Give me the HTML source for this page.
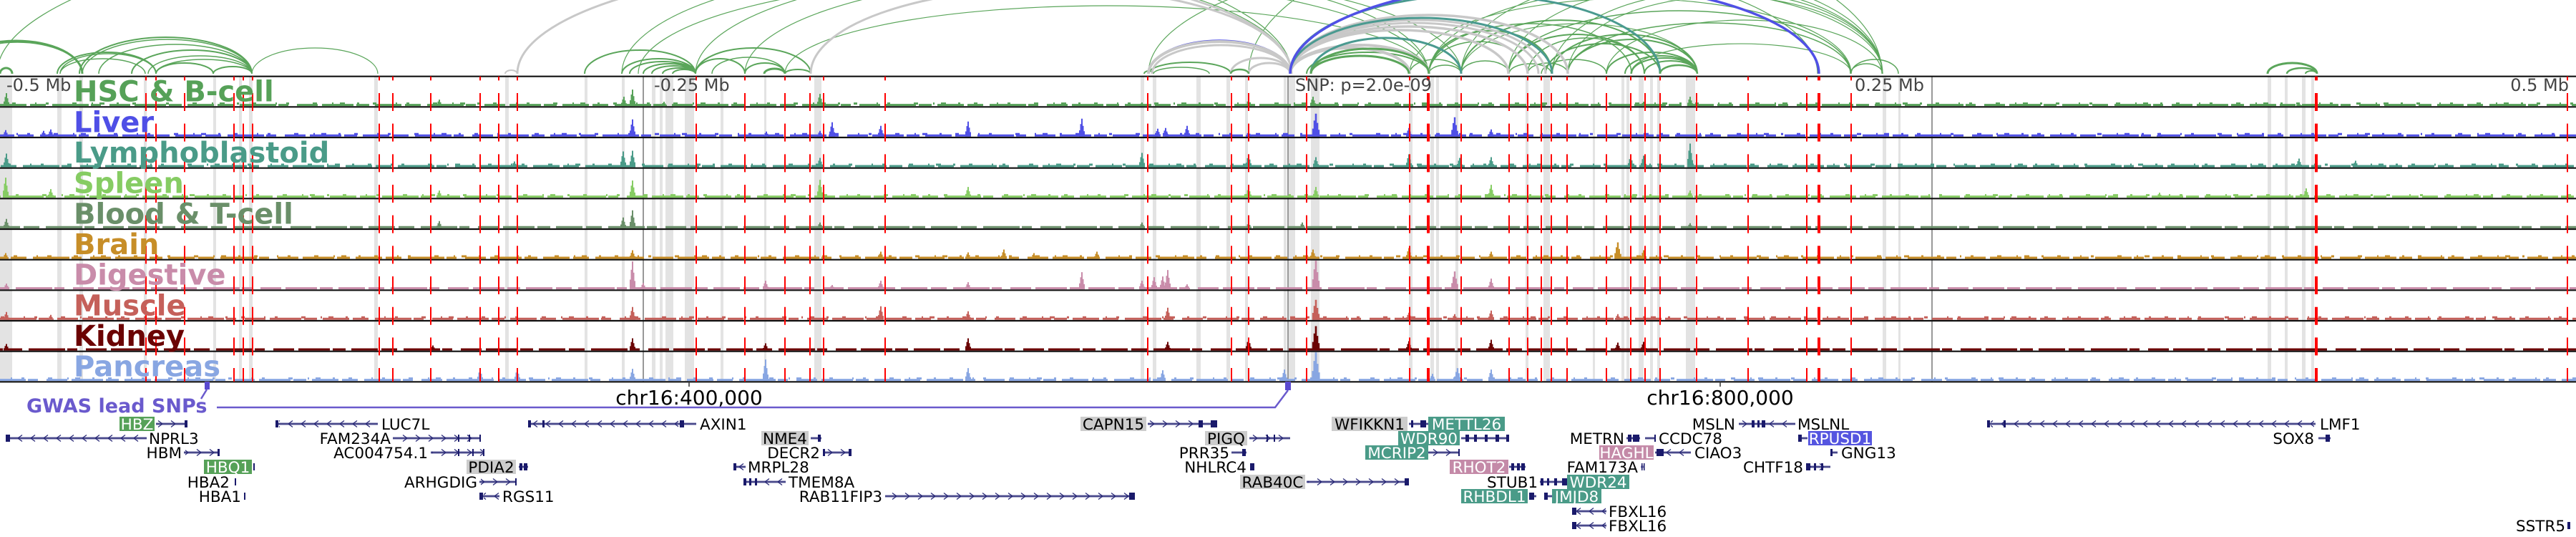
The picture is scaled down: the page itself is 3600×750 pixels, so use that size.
<!DOCTYPE html>
<html>
<head>
<meta charset="utf-8">
<style>
html,body{margin:0;padding:0;background:#fff;}
body{width:3600px;height:750px;overflow:hidden;}
svg{display:block;}
.n1{stroke-width:3;stroke-dasharray:37 5 22 9 51 3 14 12 29 6 44 4 18 8;}
.n2{stroke-width:3;stroke-dasharray:3 19 5 27 2 13 4 33 6 21 2 9 7 17;}
.tl{font-family:"DejaVu Sans","Liberation Sans",sans-serif;font-weight:bold;font-size:40px;}
.ax{font-family:"DejaVu Sans","Liberation Sans",sans-serif;font-size:24px;fill:#444;}
.g{font-family:"DejaVu Sans","Liberation Sans",sans-serif;font-size:21.5px;fill:#000;}
.gw{font-family:"DejaVu Sans","Liberation Sans",sans-serif;font-size:21.5px;fill:#fff;text-anchor:middle;}
.gb{font-family:"DejaVu Sans","Liberation Sans",sans-serif;font-size:21.5px;fill:#000;text-anchor:middle;}
.e{text-anchor:end;}
.ex{fill:#1a1a6b;}
</style>
</head>
<body>
<svg xmlns="http://www.w3.org/2000/svg" width="3600" height="750" viewBox="0 0 3600 750">
<defs>
<path id="pk" d="M-4 0V-.35H-2.5V-.7H-1V-1H1V-.6H2.5V-.3H4V0Z" stroke="none"/>
<pattern id="cr" patternUnits="userSpaceOnUse" x="0" y="-6" width="18" height="12"><path d="M5 1.5L11 6L5 10.5" fill="none" stroke="#2a2a78" stroke-width="1.3"/></pattern>
<pattern id="cl" patternUnits="userSpaceOnUse" x="0" y="-6" width="18" height="12"><path d="M13 1.5L7 6L13 10.5" fill="none" stroke="#2a2a78" stroke-width="1.3"/></pattern>
</defs>

<!-- gray bands -->
<g fill="#e3e3e3">
<rect x="0" y="106.7" width="17" height="426.6"/>
<rect x="80" y="106.7" width="6" height="426.6"/>
<rect x="111" y="106.7" width="5" height="426.6"/>
<rect x="201" y="106.7" width="4" height="426.6"/>
<rect x="298" y="106.7" width="4" height="426.6"/>
<rect x="334" y="106.7" width="4" height="426.6"/>
<rect x="348" y="106.7" width="5" height="426.6"/>
<rect x="523" y="106.7" width="5" height="426.6"/>
<rect x="706" y="106.7" width="5" height="426.6"/>
<rect x="817" y="106.7" width="4" height="426.6"/>
<rect x="869" y="106.7" width="4" height="426.6"/>
<rect x="911" y="106.7" width="5" height="426.6"/>
<rect x="922" y="106.7" width="4" height="426.6"/>
<rect x="930" y="106.7" width="11" height="426.6"/>
<rect x="957" y="106.7" width="13" height="426.6"/>
<rect x="1007" y="106.7" width="4" height="426.6"/>
<rect x="1068" y="106.7" width="3" height="426.6"/>
<rect x="1138" y="106.7" width="10" height="426.6"/>
<rect x="1594" y="106.7" width="5" height="426.6"/>
<rect x="1611" y="106.7" width="5" height="426.6"/>
<rect x="1672" y="106.7" width="6" height="426.6"/>
<rect x="1714" y="106.7" width="5" height="426.6"/>
<rect x="1740" y="106.7" width="4" height="426.6"/>
<rect x="1794" y="106.7" width="4" height="426.6"/>
<rect x="1801" y="106.7" width="9" height="426.6"/>
<rect x="1832" y="106.7" width="12" height="426.6"/>
<rect x="1969" y="106.7" width="5" height="426.6"/>
<rect x="1999" y="106.7" width="5" height="426.6"/>
<rect x="2007" y="106.7" width="4" height="426.6"/>
<rect x="2034" y="106.7" width="4" height="426.6"/>
<rect x="2132" y="106.7" width="4" height="426.6"/>
<rect x="2157" y="106.7" width="9" height="426.6"/>
<rect x="2226" y="106.7" width="3" height="426.6"/>
<rect x="2266" y="106.7" width="4" height="426.6"/>
<rect x="2273" y="106.7" width="4" height="426.6"/>
<rect x="2290" y="106.7" width="7" height="426.6"/>
<rect x="2306" y="106.7" width="4" height="426.6"/>
<rect x="2316" y="106.7" width="4" height="426.6"/>
<rect x="2356" y="106.7" width="13" height="426.6"/>
<rect x="2631" y="106.7" width="5" height="426.6"/>
<rect x="2653" y="106.7" width="3" height="426.6"/>
<rect x="3169" y="106.7" width="5" height="426.6"/>
<rect x="3193" y="106.7" width="4" height="426.6"/>
<rect x="3217" y="106.7" width="5" height="426.6"/>
<rect x="3230" y="106.7" width="4" height="426.6"/>
</g>

<!-- axis lines -->
<path d="M899 106.7V533.3M1800 106.7V533.3M2700 106.7V533.3" stroke="#777" stroke-width="1.5"/>

<!-- signal tracks -->
<g fill="#56a158" stroke="#56a158" transform="translate(0,148.1)">
<line class="n1" x1="0" x2="3600" y1="-1.5" y2="-1.5"/>
<line class="n2" x1="0" x2="3600" y1="-3.5" y2="-3.5" style="stroke-dashoffset:5"/>
<use href="#pk" transform="translate(9,0) scale(1,18)"/><use href="#pk" transform="translate(614,0) scale(1,9)"/><use href="#pk" transform="translate(872,0) scale(1,13)"/><use href="#pk" transform="translate(884,0) scale(1,23)"/><use href="#pk" transform="translate(928,0) scale(1,6)"/><use href="#pk" transform="translate(1146,0) scale(1,17)"/><use href="#pk" transform="translate(1745,0) scale(1,9)"/><use href="#pk" transform="translate(1835,0) scale(1,13)"/><use href="#pk" transform="translate(2362,0) scale(1,13)"/><use href="#pk" transform="translate(1596,0) scale(1,5)"/><use href="#pk" transform="translate(2297,0) scale(1,6)"/><use href="#pk" transform="translate(2084,0) scale(1,5)"/><use href="#pk" transform="translate(3213,0) scale(1,4)"/>
</g>
<g fill="#4f4fe6" stroke="#4f4fe6" transform="translate(0,190.8)">
<line class="n1" x1="0" x2="3600" y1="-1.5" y2="-1.5" style="stroke-dashoffset:17"/>
<line class="n2" x1="0" x2="3600" y1="-3.5" y2="-3.5" style="stroke-dashoffset:31"/>
<use href="#pk" transform="translate(8,0) scale(1,9)"/><use href="#pk" transform="translate(61,0) scale(1,8)"/><use href="#pk" transform="translate(71,0) scale(1,10)"/><use href="#pk" transform="translate(884,0) scale(1,24)"/><use href="#pk" transform="translate(1071,0) scale(1,7)"/><use href="#pk" transform="translate(1146,0) scale(1,8)"/><use href="#pk" transform="translate(1163,0) scale(1,20)"/><use href="#pk" transform="translate(1231,0) scale(1,15)"/><use href="#pk" transform="translate(1353,0) scale(1,21)"/><use href="#pk" transform="translate(1512,0) scale(1,25)"/><use href="#pk" transform="translate(1618,0) scale(1,11)"/><use href="#pk" transform="translate(1629,0) scale(1,12)"/><use href="#pk" transform="translate(1659,0) scale(1,15)"/><use href="#pk" transform="translate(1745,0) scale(1,7)"/><use href="#pk" transform="translate(1839,0) scale(1.3,32)"/><use href="#pk" transform="translate(1969,0) scale(1,12)"/><use href="#pk" transform="translate(2033,0) scale(1.2,27)"/><use href="#pk" transform="translate(2084,0) scale(1,10)"/><use href="#pk" transform="translate(3018,0) scale(1,5)"/>
</g>
<g fill="#4a9b88" stroke="#4a9b88" transform="translate(0,233.5)">
<line class="n1" x1="0" x2="3600" y1="-1.5" y2="-1.5" style="stroke-dashoffset:41"/>
<line class="n2" x1="0" x2="3600" y1="-3.5" y2="-3.5" style="stroke-dashoffset:12"/>
<use href="#pk" transform="translate(9,0) scale(1,19)"/><use href="#pk" transform="translate(719,0) scale(1,8)"/><use href="#pk" transform="translate(871,0) scale(1,22)"/><use href="#pk" transform="translate(884,0) scale(1,23)"/><use href="#pk" transform="translate(1146,0) scale(1,13)"/><use href="#pk" transform="translate(1596,0) scale(1,20)"/><use href="#pk" transform="translate(1745,0) scale(1,18)"/><use href="#pk" transform="translate(1839,0) scale(1,14)"/><use href="#pk" transform="translate(1969,0) scale(1,18)"/><use href="#pk" transform="translate(2040,0) scale(1,13)"/><use href="#pk" transform="translate(2084,0) scale(1,14)"/><use href="#pk" transform="translate(2279,0) scale(1,16)"/><use href="#pk" transform="translate(2297,0) scale(1,16)"/><use href="#pk" transform="translate(2362,0) scale(1,33)"/><use href="#pk" transform="translate(3213,0) scale(1,12)"/><use href="#pk" transform="translate(3292,0) scale(1,9)"/>
</g>
<g fill="#86cc63" stroke="#86cc63" transform="translate(0,276.1)">
<line class="n1" x1="0" x2="3600" y1="-1.5" y2="-1.5" style="stroke-dashoffset:63"/>
<line class="n2" x1="0" x2="3600" y1="-3.5" y2="-3.5" style="stroke-dashoffset:47"/>
<use href="#pk" transform="translate(8,0) scale(1,28)"/><use href="#pk" transform="translate(71,0) scale(1,12)"/><use href="#pk" transform="translate(614,0) scale(1,10)"/><use href="#pk" transform="translate(884,0) scale(1,24)"/><use href="#pk" transform="translate(1146,0) scale(1,25)"/><use href="#pk" transform="translate(1353,0) scale(1,15)"/><use href="#pk" transform="translate(1745,0) scale(1,15)"/><use href="#pk" transform="translate(1839,0) scale(1,15)"/><use href="#pk" transform="translate(2084,0) scale(1,18)"/><use href="#pk" transform="translate(2362,0) scale(1,10)"/><use href="#pk" transform="translate(3018,0) scale(1,7)"/><use href="#pk" transform="translate(3223,0) scale(1,13)"/>
</g>
<g fill="#6a8f69" stroke="#6a8f69" transform="translate(0,318.8)">
<line class="n1" x1="0" x2="3600" y1="-1.5" y2="-1.5" style="stroke-dashoffset:9"/>
<use href="#pk" transform="translate(9,0) scale(1,13)"/><use href="#pk" transform="translate(614,0) scale(1,10)"/><use href="#pk" transform="translate(871,0) scale(1,15)"/><use href="#pk" transform="translate(884,0) scale(1,25)"/><use href="#pk" transform="translate(1146,0) scale(1,8)"/><use href="#pk" transform="translate(1596,0) scale(1,8)"/><use href="#pk" transform="translate(1745,0) scale(1,8)"/><use href="#pk" transform="translate(1820,0) scale(1,8)"/><use href="#pk" transform="translate(2362,0) scale(1,7)"/>
</g>
<g fill="#c78e28" stroke="#c78e28" transform="translate(0,361.5)">
<line class="n1" x1="0" x2="3600" y1="-1.5" y2="-1.5" style="stroke-dashoffset:27"/>
<line class="n2" x1="0" x2="3600" y1="-3.5" y2="-3.5" style="stroke-dashoffset:3"/>
<use href="#pk" transform="translate(8,0) scale(1,8)"/><use href="#pk" transform="translate(71,0) scale(1,5)"/><use href="#pk" transform="translate(884,0) scale(1,12)"/><use href="#pk" transform="translate(1231,0) scale(1,10)"/><use href="#pk" transform="translate(1353,0) scale(1,9)"/><use href="#pk" transform="translate(1403,0) scale(1,13)"/><use href="#pk" transform="translate(1445,0) scale(1,8)"/><use href="#pk" transform="translate(1533,0) scale(1,10)"/><use href="#pk" transform="translate(1835,0) scale(1,13)"/><use href="#pk" transform="translate(1969,0) scale(1,15)"/><use href="#pk" transform="translate(2084,0) scale(1,10)"/><use href="#pk" transform="translate(2261,0) scale(1.2,23)"/><use href="#pk" transform="translate(2297,0) scale(1,12)"/>
</g>
<g fill="#c98caa" stroke="#c98caa" transform="translate(0,404.1)">
<line class="n1" x1="0" x2="3600" y1="-1.5" y2="-1.5" style="stroke-dashoffset:51"/>
<use href="#pk" transform="translate(9,0) scale(1,8)"/><use href="#pk" transform="translate(884,0) scale(1,39)"/><use href="#pk" transform="translate(899,0) scale(1,9)"/><use href="#pk" transform="translate(1070,0) scale(1,12)"/><use href="#pk" transform="translate(1163,0) scale(1,6)"/><use href="#pk" transform="translate(1231,0) scale(1,12)"/><use href="#pk" transform="translate(1353,0) scale(1,10)"/><use href="#pk" transform="translate(1512,0) scale(1,24)"/><use href="#pk" transform="translate(1596,0) scale(1,12)"/><use href="#pk" transform="translate(1613,0) scale(1,17)"/><use href="#pk" transform="translate(1625,0) scale(1,18)"/><use href="#pk" transform="translate(1632,0) scale(1,27)"/><use href="#pk" transform="translate(1659,0) scale(1,7)"/><use href="#pk" transform="translate(1839,0) scale(1.3,40)"/><use href="#pk" transform="translate(2033,0) scale(1.2,25)"/><use href="#pk" transform="translate(2084,0) scale(1,15)"/>
</g>
<g fill="#c5605a" stroke="#c5605a" transform="translate(0,446.8)">
<line class="n1" x1="0" x2="3600" y1="-1.5" y2="-1.5" style="stroke-dashoffset:73"/>
<line class="n2" x1="0" x2="3600" y1="-3.5" y2="-3.5" style="stroke-dashoffset:21"/>
<use href="#pk" transform="translate(9,0) scale(1,11)"/><use href="#pk" transform="translate(71,0) scale(1,7)"/><use href="#pk" transform="translate(884,0) scale(1,18)"/><use href="#pk" transform="translate(1231,0) scale(1,19)"/><use href="#pk" transform="translate(1353,0) scale(1,12)"/><use href="#pk" transform="translate(1632,0) scale(1,17)"/><use href="#pk" transform="translate(1839,0) scale(1.3,28)"/><use href="#pk" transform="translate(1969,0) scale(1,10)"/><use href="#pk" transform="translate(2033,0) scale(1,8)"/><use href="#pk" transform="translate(2084,0) scale(1,13)"/><use href="#pk" transform="translate(2261,0) scale(1,8)"/>
</g>
<g fill="#6b0303" stroke="#6b0303" transform="translate(0,489.5)">
<line class="n1" x1="0" x2="3600" y1="-1.5" y2="-1.5" style="stroke-dashoffset:33"/>
<use href="#pk" transform="translate(9,0) scale(1,9)"/><use href="#pk" transform="translate(605,0) scale(1,7)"/><use href="#pk" transform="translate(884,0) scale(1,17)"/><use href="#pk" transform="translate(1070,0) scale(1,10)"/><use href="#pk" transform="translate(1353,0) scale(1,17)"/><use href="#pk" transform="translate(1632,0) scale(1,12)"/><use href="#pk" transform="translate(1745,0) scale(1,17)"/><use href="#pk" transform="translate(1839,0) scale(1.3,34)"/><use href="#pk" transform="translate(1969,0) scale(1,13)"/><use href="#pk" transform="translate(2084,0) scale(1,15)"/><use href="#pk" transform="translate(2261,0) scale(1,11)"/><use href="#pk" transform="translate(2297,0) scale(1,12)"/>
</g>
<g fill="#88a6e2" stroke="#88a6e2" transform="translate(0,532.1)">
<line class="n1" x1="0" x2="3600" y1="-1.5" y2="-1.5" style="stroke-dashoffset:88"/>
<line class="n2" x1="0" x2="3600" y1="-3.5" y2="-3.5" style="stroke-dashoffset:39"/>
<use href="#pk" transform="translate(671,0) scale(1,17)"/><use href="#pk" transform="translate(723,0) scale(1,17)"/><use href="#pk" transform="translate(884,0) scale(1,17)"/><use href="#pk" transform="translate(1070,0) scale(1,30)"/><use href="#pk" transform="translate(1353,0) scale(1,18)"/><use href="#pk" transform="translate(1625,0) scale(1,15)"/><use href="#pk" transform="translate(1795,0) scale(1,16)"/><use href="#pk" transform="translate(1839,0) scale(1.4,40)"/><use href="#pk" transform="translate(2002,0) scale(1,10)"/><use href="#pk" transform="translate(2037,0) scale(1.2,18)"/><use href="#pk" transform="translate(2084,0) scale(1,16)"/>
</g>

<!-- track borders -->
<path d="M0 106.7H3600M0 149.3H3600M0 192H3600M0 234.7H3600M0 277.3H3600M0 320H3600M0 362.7H3600M0 405.3H3600M0 448H3600M0 490.7H3600M0 533.3H3600" stroke="#111" stroke-width="2.2"/>

<!-- red lines -->
<path d="M204 106.7V533M218 106.7V533M258 106.7V533M327 106.7V533M340 106.7V533M353 106.7V533M530 106.7V533M549 106.7V533M602 106.7V533M671 106.7V533M697 106.7V533M723 106.7V533M973 106.7V533M1041 106.7V533M1097 106.7V533M1132 106.7V533M1151 106.7V533M1237 106.7V533M1604 106.7V533M1721 106.7V533M1745 106.7V533M1826 106.7V533M1970 106.7V533M2042 106.7V533M2109 106.7V533M2135 106.7V533M2154 106.7V533M2168 106.7V533M2190 106.7V533M2245 106.7V533M2279 106.7V533M2299 106.7V533M2320 106.7V533M2371 106.7V533M2443 106.7V533M2525 106.7V533M2587 106.7V533M3588 106.7V533" stroke="#ff0000" stroke-width="2" stroke-dasharray="25 17.67" stroke-dashoffset="19.37"/>
<path d="M1996 106.7V533M2542 106.7V533M3237 106.7V533" stroke="#ff0000" stroke-width="4" stroke-dasharray="25 17.67" stroke-dashoffset="19.37"/>

<!-- arcs -->
<g fill="none">
<path stroke="#5aa55a" stroke-width="1.2" d="M-4 103A904.5 223 0 0 1 1805 103M352 103A88 36 0 0 1 528 103M869 103A468 150 0 0 1 1805 103M892 103A552 135 0 0 1 1996 103M972 103A512 150 0 0 1 1996 103M1041 103A500.5 140 0 0 1 2042 103M1097 103A449.5 95 0 0 1 1996 103M1605 103A467.5 160 0 0 1 2540 103M1745 103A442.5 200 0 0 1 2630 103M2042 103A165 70 0 0 1 2372 103M1997 103A317 120 0 0 1 2631 103M2042 103A294.5 140 0 0 1 2631 103M2108 103A261.5 125 0 0 1 2631 103M2169 103A231 115 0 0 1 2631 103M2191 103A220 108 0 0 1 2631 103M2245 103A192.5 75 0 0 1 2630 103M2279 103A154 42 0 0 1 2587 103M1970 103A308.5 105 0 0 1 2587 103"/>
<path stroke="#5aa55a" stroke-width="1.5" d="M-66 103A90.5 44 0 0 1 115 103M84 103A67 28 0 0 1 218 103M84 103A59.5 21 0 0 1 203 103M115 103A118.5 48 0 0 1 352 103M138 103A107 41 0 0 1 352 103M207 103A72.5 25 0 0 1 352 103M218 103A67 20 0 0 1 352 103M995 103A51 23 0 0 1 1097 103M1612 103A39 9 0 0 1 1690 103M1997 103A69 45 0 0 1 2135 103M1997 103A141.5 70 0 0 1 2280 103M2135 103A81.5 50 0 0 1 2298 103M2135 103A28 15 0 0 1 2191 103M2154 103A45.5 20 0 0 1 2245 103M2109 103A29.5 14 0 0 1 2168 103M2042 103A33.5 18 0 0 1 2109 103M1997 103A22.5 12 0 0 1 2042 103M1970 103A36 20 0 0 1 2042 103M2108 103A239 88 0 0 1 2586 103M2191 103A197.5 71 0 0 1 2586 103M2586 103A22.5 14 0 0 1 2631 103M2587 103A33 20 0 0 1 2653 103"/>
<path stroke="#5aa55a" stroke-width="2" d="M80 103A69 30 0 0 1 218 103M111 103A120.5 51 0 0 1 352 103M184 103A84 33 0 0 1 352 103M218 103A40 15 0 0 1 298 103M298 103A27 10 0 0 1 352 103M817 103A77.5 33 0 0 1 972 103M869 103A51.5 21 0 0 1 972 103M880 103A46 17 0 0 1 972 103M899 103A36.5 14 0 0 1 972 103M911 103A30.5 11 0 0 1 972 103M926 103A23 8 0 0 1 972 103M940 103A16 6 0 0 1 972 103M972 103A34.5 21 0 0 1 1041 103M972 103A80.5 36 0 0 1 1133 103M1041 103A28 15 0 0 1 1097 103M1097 103A18 6 0 0 1 1133 103M1599 103A6.5 4 0 0 1 1612 103M1605 103A57.5 16 0 0 1 1720 103M1826 103A85.5 30 0 0 1 1997 103M1997 103A86 60 0 0 1 2169 103M2042 103A139 75 0 0 1 2320 103M2108 103A95 55 0 0 1 2298 103M2160 103A80 42 0 0 1 2320 103M2169 103A101.5 55 0 0 1 2372 103M2191 103A90.5 48 0 0 1 2372 103M2245 103A63.5 30 0 0 1 2372 103M2271 103A50.5 25 0 0 1 2372 103M2280 103A46 22 0 0 1 2372 103M2298 103A37 18 0 0 1 2372 103M3222 103A8 4 0 0 1 3238 103"/>
<path stroke="#5050e6" stroke-width="1.5" d="M1605 103A99 47 0 0 1 1803 103"/>
<path stroke="#c8c8c8" stroke-width="2" d="M706 103A8.5 5 0 0 1 723 103"/>
<path stroke="#c8c8c8" stroke-width="3" d="M723 103A541 155 0 0 1 1805 103M1133 103A336 120 0 0 1 1805 103M1610 103A96.5 40 0 0 1 1803 103M1745 103A29 15 0 0 1 1803 103M1720 103A41.5 22 0 0 1 1803 103M1803 103A178.5 75 0 0 1 2160 103M1803 103A173.5 71 0 0 1 2150 103"/>
<path stroke="#c8c8c8" stroke-width="3.5" d="M1803 103A152.5 61 0 0 1 2108 103M1803 103A166 66 0 0 1 2135 103M1803 103A194 82 0 0 1 2191 103"/>
<path stroke="#c8c8c8" stroke-width="4" d="M1605 103A99 45 0 0 1 1803 103M1803 103A83.5 36 0 0 1 1970 103M1803 103A97 40 0 0 1 1997 103"/>
<path stroke="#4a9a90" stroke-width="3" d="M1803 103A258.5 110 0 0 1 2320 103M1803 103A183 78 0 0 1 2169 103M1832 103A105 50 0 0 1 2042 103"/>
<path stroke="#5050e6" stroke-width="3.5" d="M1803 103A369.5 128 0 0 1 2542 103"/>
<path stroke="#5aa55a" stroke-width="2.5" d="M1720 103A12.5 6 0 0 1 1745 103M2320 103A26 12 0 0 1 2372 103M3196 103A21 8 0 0 1 3238 103"/>
<path stroke="#5aa55a" stroke-width="3" d="M0 103A8.5 8 0 0 1 17 103M-70 103A92.5 46 0 0 1 115 103M1068 103A14.5 7 0 0 1 1097 103M1832 103A68.5 25 0 0 1 1969 103M1832 103A82.5 35 0 0 1 1997 103M3169 103A34.5 15 0 0 1 3238 103"/>
</g>

<!-- axis labels -->
<text class="ax" x="9" y="127">-0.5 Mb</text>
<text class="ax" x="914" y="127">-0.25 Mb</text>
<text class="ax" x="1810" y="127">SNP: p=2.0e-09</text>
<text class="ax" x="2689" y="127" text-anchor="end">0.25 Mb</text>
<text class="ax" x="3590" y="127" text-anchor="end">0.5 Mb</text>

<!-- track labels -->
<text class="tl" x="103" y="141.7" fill="#56a158">HSC &amp; B-cell</text>
<text class="tl" x="103" y="184.3" fill="#4f4fe6">Liver</text>
<text class="tl" x="103" y="227" fill="#4a9b88">Lymphoblastoid</text>
<text class="tl" x="103" y="269.7" fill="#86cc63">Spleen</text>
<text class="tl" x="103" y="312.3" fill="#6a8f69">Blood &amp; T-cell</text>
<text class="tl" x="103" y="355" fill="#c78e28">Brain</text>
<text class="tl" x="103" y="397.7" fill="#c98caa">Digestive</text>
<text class="tl" x="103" y="440.3" fill="#c5605a">Muscle</text>
<text class="tl" x="103" y="483" fill="#6b0303">Kidney</text>
<text class="tl" x="103" y="525.7" fill="#88a6e2">Pancreas</text>

<!-- coordinate ticks and labels -->
<path d="M963 533V540M2404 533V540" stroke="#333" stroke-width="1.5"/>
<text x="963" y="565" text-anchor="middle" font-family="DejaVu Sans, Liberation Sans, sans-serif" font-size="28" fill="#000">chr16:400,000</text>
<text x="2404" y="565" text-anchor="middle" font-family="DejaVu Sans, Liberation Sans, sans-serif" font-size="28" fill="#000">chr16:800,000</text>

<!-- GWAS track -->
<text x="37" y="576" font-family="DejaVu Sans, Liberation Sans, sans-serif" font-weight="bold" font-size="27" fill="#6a5acd">GWAS lead SNPs</text>
<path d="M303 569H1782L1800 545M289 544L281 557" fill="none" stroke="#6a5acd" stroke-width="2.5"/>
<rect x="286" y="533" width="7" height="11" fill="#5a4ad0"/>
<rect x="1796" y="533" width="8" height="12" fill="#5a4ad0"/>

<!-- genes row 1 -->
<g transform="translate(0,592)">
<path d="M218 0H262M385 0H528M738 0H973M1604 0H1701M1969 0H1996M2430 0H2509M2777 0H3236" stroke="#8585b8" stroke-width="3.2"/>
<path d="M218 0H262M385 0H528M738 0H973M1604 0H1701M1969 0H1996M2430 0H2509M2777 0H3236" stroke="#26266f" stroke-width="1.2"/>
<rect x="220" y="-6" width="36" height="12" fill="url(#cr)"/>
<rect x="390" y="-6" width="136" height="12" fill="url(#cl)"/>
<rect x="743" y="-6" width="205" height="12" fill="url(#cl)"/>
<rect x="1606" y="-6" width="68" height="12" fill="url(#cr)"/>
<rect x="2430" y="-6" width="17" height="12" fill="url(#cr)"/>
<rect x="2467" y="-6" width="42" height="12" fill="url(#cl)"/>
<rect x="2782" y="-6" width="452" height="12" fill="url(#cl)"/>
<rect class="ex" x="258" y="-5" width="4" height="10"/><rect class="ex" x="385" y="-5" width="4" height="10"/><rect class="ex" x="738" y="-5" width="4" height="10"/><rect class="ex" x="758" y="-5" width="3" height="10"/><rect class="ex" x="950" y="-5" width="6" height="10"/><rect class="ex" x="1675" y="-5" width="6" height="10"/><rect class="ex" x="1692" y="-5" width="9" height="10"/><rect class="ex" x="1972" y="-5" width="3" height="10"/><rect class="ex" x="1985" y="-5" width="8" height="10"/><rect class="ex" x="2448" y="-5" width="4" height="10"/><rect class="ex" x="2456" y="-5" width="3" height="10"/><rect class="ex" x="2462" y="-5" width="5" height="10"/><rect class="ex" x="2777" y="-5" width="4" height="10"/><rect class="ex" x="2800" y="-5" width="3" height="10"/>
<rect x="167" y="-10" width="49" height="20" fill="#56a158"/><text class="gw" x="191.5" y="7.8">HBZ</text>
<text class="g" x="533" y="7.8">LUC7L</text>
<text class="g" x="978" y="7.8">AXIN1</text>
<rect x="1510" y="-10" width="92" height="20" fill="#cccccc"/><text class="gb" x="1556" y="7.8">CAPN15</text>
<rect x="1861" y="-10" width="106" height="20" fill="#cccccc"/><text class="gb" x="1914" y="7.8">WFIKKN1</text>
<rect x="1996" y="-10" width="107" height="20" fill="#4a9b88"/><text class="gw" x="2049.5" y="7.8">METTL26</text>
<text class="g e" x="2425" y="7.8">MSLN</text>
<text class="g" x="2512" y="7.8">MSLNL</text>
<text class="g" x="3242" y="7.8">LMF1</text>
</g>

<!-- genes row 2 -->
<g transform="translate(0,612)">
<path d="M8 0H205M549 0H672M1133 0H1148M1746 0H1803M2042 0H2109M2273 0H2292M2299 0H2314M2513 0H2526M3240 0H3257" stroke="#8585b8" stroke-width="3.2"/>
<path d="M8 0H205M549 0H672M1133 0H1148M1746 0H1803M2042 0H2109M2273 0H2292M2299 0H2314M2513 0H2526M3240 0H3257" stroke="#26266f" stroke-width="1.2"/>
<rect x="15" y="-6" width="188" height="12" fill="url(#cl)"/>
<rect x="551" y="-6" width="119" height="12" fill="url(#cr)"/>
<rect x="1748" y="-6" width="54" height="12" fill="url(#cr)"/>
<rect class="ex" x="8" y="-5" width="6" height="10"/><rect class="ex" x="640" y="-5" width="2" height="10"/><rect class="ex" x="655" y="-5" width="2" height="10"/><rect class="ex" x="670" y="-5" width="2" height="10"/><rect class="ex" x="1143" y="-5" width="4" height="10"/><rect class="ex" x="1770" y="-5" width="2" height="10"/><rect class="ex" x="1780" y="-5" width="2" height="10"/><rect class="ex" x="2048" y="-5" width="5" height="10"/><rect class="ex" x="2060" y="-5" width="4" height="10"/><rect class="ex" x="2075" y="-5" width="4" height="10"/><rect class="ex" x="2090" y="-5" width="5" height="10"/><rect class="ex" x="2105" y="-5" width="4" height="10"/><rect class="ex" x="2275" y="-5" width="5" height="10"/><rect class="ex" x="2282" y="-5" width="9" height="10"/><rect class="ex" x="2312" y="-5" width="2" height="10"/><rect class="ex" x="2513" y="-5" width="5" height="10"/><rect class="ex" x="3250" y="-5" width="6" height="10"/>
<text class="g" x="208" y="7.8">NPRL3</text>
<text class="g e" x="546" y="7.8">FAM234A</text>
<rect x="1064" y="-10" width="66" height="20" fill="#cccccc"/><text class="gb" x="1097" y="7.8">NME4</text>
<rect x="1684" y="-10" width="59" height="20" fill="#cccccc"/><text class="gb" x="1713.5" y="7.8">PIGQ</text>
<rect x="1954" y="-10" width="86" height="20" fill="#4a9b88"/><text class="gw" x="1997" y="7.8">WDR90</text>
<text class="g e" x="2270" y="7.8">METRN</text>
<text class="g" x="2318" y="7.8">CCDC78</text>
<rect x="2527" y="-10" width="89" height="20" fill="#5555e0"/><text class="gw" x="2571.5" y="7.8">RPUSD1</text>
<text class="g e" x="3234" y="7.8">SOX8</text>
</g>

<!-- genes row 3 -->
<g transform="translate(0,632)">
<path d="M257 0H306M602 0H677M1150 0H1190M1721 0H1742M1996 0H2040M2313 0H2363M2558 0H2568" stroke="#8585b8" stroke-width="3.2"/>
<path d="M257 0H306M602 0H677M1150 0H1190M1721 0H1742M1996 0H2040M2313 0H2363M2558 0H2568" stroke="#26266f" stroke-width="1.2"/>
<rect x="259" y="-6" width="44" height="12" fill="url(#cr)"/>
<rect x="604" y="-6" width="71" height="12" fill="url(#cr)"/>
<rect x="1154" y="-6" width="31" height="12" fill="url(#cr)"/>
<rect x="1998" y="-6" width="40" height="12" fill="url(#cr)"/>
<rect x="2326" y="-6" width="36" height="12" fill="url(#cl)"/>
<rect class="ex" x="304" y="-5" width="3" height="10"/><rect class="ex" x="640" y="-5" width="2" height="10"/><rect class="ex" x="660" y="-5" width="2" height="10"/><rect class="ex" x="675" y="-5" width="2" height="10"/><rect class="ex" x="1150" y="-5" width="3" height="10"/><rect class="ex" x="1186" y="-5" width="4" height="10"/><rect class="ex" x="1736" y="-5" width="5" height="10"/><rect class="ex" x="2038" y="-5" width="2" height="10"/><rect class="ex" x="2315" y="-5" width="10" height="10"/><rect class="ex" x="2558" y="-5" width="3" height="10"/>
<text class="g e" x="254" y="7.8">HBM</text>
<text class="g e" x="598" y="7.8">AC004754.1</text>
<text class="g e" x="1146" y="7.8">DECR2</text>
<text class="g e" x="1718" y="7.8">PRR35</text>
<rect x="1908" y="-10" width="88" height="20" fill="#4a9b88"/><text class="gw" x="1952" y="7.8">MCRIP2</text>
<rect x="2235" y="-10" width="76" height="20" fill="#c48aa8"/><text class="gw" x="2273" y="7.8">HAGHL</text>
<text class="g" x="2368" y="7.8">CIAO3</text>
<text class="g" x="2573" y="7.8">GNG13</text>
</g>

<!-- genes row 4 -->
<g transform="translate(0,652)">
<path d="M354 0H356M725 0H738M1025 0H1042M1747 0H1753M2109 0H2132M2293 0H2298M2524 0H2558" stroke="#8585b8" stroke-width="3.2"/>
<path d="M725 0H738M1025 0H1042M2109 0H2132M2524 0H2558" stroke="#26266f" stroke-width="1.2"/>
<rect x="1030" y="-6" width="12" height="12" fill="url(#cl)"/>
<rect x="2530" y="-6" width="27" height="12" fill="url(#cr)"/>
<rect class="ex" x="354" y="-5" width="2" height="10"/><rect class="ex" x="726" y="-5" width="4" height="10"/><rect class="ex" x="732" y="-5" width="5" height="10"/><rect class="ex" x="1025" y="-5" width="4" height="10"/><rect class="ex" x="1747" y="-5" width="6" height="10"/><rect class="ex" x="2112" y="-5" width="4" height="10"/><rect class="ex" x="2120" y="-5" width="4" height="10"/><rect class="ex" x="2126" y="-5" width="5" height="10"/><rect class="ex" x="2294" y="-5" width="1.5" height="10"/><rect class="ex" x="2297" y="-5" width="1.5" height="10"/><rect class="ex" x="2524" y="-5" width="6" height="10"/><rect class="ex" x="2535" y="-5" width="3" height="10"/><rect class="ex" x="2545" y="-5" width="3" height="10"/>
<rect x="285" y="-10" width="67" height="20" fill="#56a158"/><text class="gw" x="318.5" y="7.8">HBQ1</text>
<rect x="652" y="-10" width="69" height="20" fill="#cccccc"/><text class="gb" x="686.5" y="7.8">PDIA2</text>
<text class="g" x="1045" y="7.8">MRPL28</text>
<text class="g e" x="1742" y="7.8">NHLRC4</text>
<rect x="2026" y="-10" width="82" height="20" fill="#c48aa8"/><text class="gw" x="2067" y="7.8">RHOT2</text>
<text class="g e" x="2289" y="7.8">FAM173A</text>
<text class="g e" x="2520" y="7.8">CHTF18</text>
</g>

<!-- genes row 5 -->
<g transform="translate(0,673)">
<path d="M328 0H330M670 0H722M1039 0H1098M1826 0H1969M2152 0H2190" stroke="#8585b8" stroke-width="3.2"/>
<path d="M670 0H722M1039 0H1098M1826 0H1969M2152 0H2190" stroke="#26266f" stroke-width="1.2"/>
<rect x="672" y="-6" width="46" height="12" fill="url(#cr)"/>
<rect x="1058" y="-6" width="39" height="12" fill="url(#cl)"/>
<rect x="1828" y="-6" width="134" height="12" fill="url(#cr)"/>
<rect class="ex" x="328" y="-5" width="2" height="10"/><rect class="ex" x="720" y="-5" width="2" height="10"/><rect class="ex" x="1039" y="-5" width="4" height="10"/><rect class="ex" x="1047" y="-5" width="3" height="10"/><rect class="ex" x="1055" y="-5" width="3" height="10"/><rect class="ex" x="1963" y="-5" width="6" height="10"/><rect class="ex" x="2153" y="-5" width="4" height="10"/><rect class="ex" x="2162" y="-5" width="3" height="10"/><rect class="ex" x="2172" y="-5" width="4" height="10"/><rect class="ex" x="2183" y="-5" width="7" height="10"/>
<text class="g e" x="321" y="7.8">HBA2</text>
<text class="g e" x="667" y="7.8">ARHGDIG</text>
<text class="g" x="1102" y="7.8">TMEM8A</text>
<rect x="1733" y="-10" width="91" height="20" fill="#cccccc"/><text class="gb" x="1778.5" y="7.8">RAB40C</text>
<text class="g e" x="2149" y="7.8">STUB1</text>
<rect x="2190" y="-10" width="87" height="20" fill="#4a9b88"/><text class="gw" x="2233.5" y="7.8">WDR24</text>
</g>

<!-- genes row 6 -->
<g transform="translate(0,693)">
<path d="M341 0H343M670 0H698M1237 0H1586M2137 0H2147M2158 0H2169" stroke="#8585b8" stroke-width="3.2"/>
<path d="M670 0H698M1237 0H1586M2137 0H2147M2158 0H2169" stroke="#26266f" stroke-width="1.2"/>
<rect x="676" y="-6" width="21" height="12" fill="url(#cl)"/>
<rect x="1239" y="-6" width="338" height="12" fill="url(#cr)"/>
<rect class="ex" x="341" y="-5" width="2" height="10"/><rect class="ex" x="670" y="-5" width="5" height="10"/><rect class="ex" x="1578" y="-5" width="8" height="10"/><rect class="ex" x="2137" y="-5" width="7" height="10"/><rect class="ex" x="2158" y="-5" width="5" height="10"/>
<text class="g e" x="337" y="7.8">HBA1</text>
<text class="g" x="702" y="7.8">RGS11</text>
<text class="g e" x="1233" y="7.8">RAB11FIP3</text>
<rect x="2042" y="-10" width="93" height="20" fill="#4a9b88"/><text class="gw" x="2088.5" y="7.8">RHBDL1</text>
<rect x="2169" y="-10" width="69" height="20" fill="#4a9b88"/><text class="gw" x="2203.5" y="7.8">JMJD8</text>
</g>

<!-- genes row 7 -->
<g transform="translate(0,714)">
<path d="M2197 0H2245" stroke="#8585b8" stroke-width="3.2"/>
<path d="M2197 0H2245" stroke="#26266f" stroke-width="1.2"/>
<rect x="2204" y="-6" width="40" height="12" fill="url(#cl)"/>
<rect class="ex" x="2197" y="-5" width="6" height="10"/>
<text class="g" x="2248" y="7.8">FBXL16</text>
</g>

<!-- genes row 8 -->
<g transform="translate(0,734)">
<path d="M2197 0H2245" stroke="#8585b8" stroke-width="3.2"/>
<path d="M2197 0H2245" stroke="#26266f" stroke-width="1.2"/>
<rect x="2204" y="-6" width="40" height="12" fill="url(#cl)"/>
<rect class="ex" x="2197" y="-5" width="6" height="10"/>
<text class="g" x="2248" y="7.8">FBXL16</text>
<rect class="ex" x="3588" y="-5" width="4" height="10"/>
<text class="g e" x="3585" y="7.8">SSTR5</text>
</g>
</svg>
</body>
</html>
